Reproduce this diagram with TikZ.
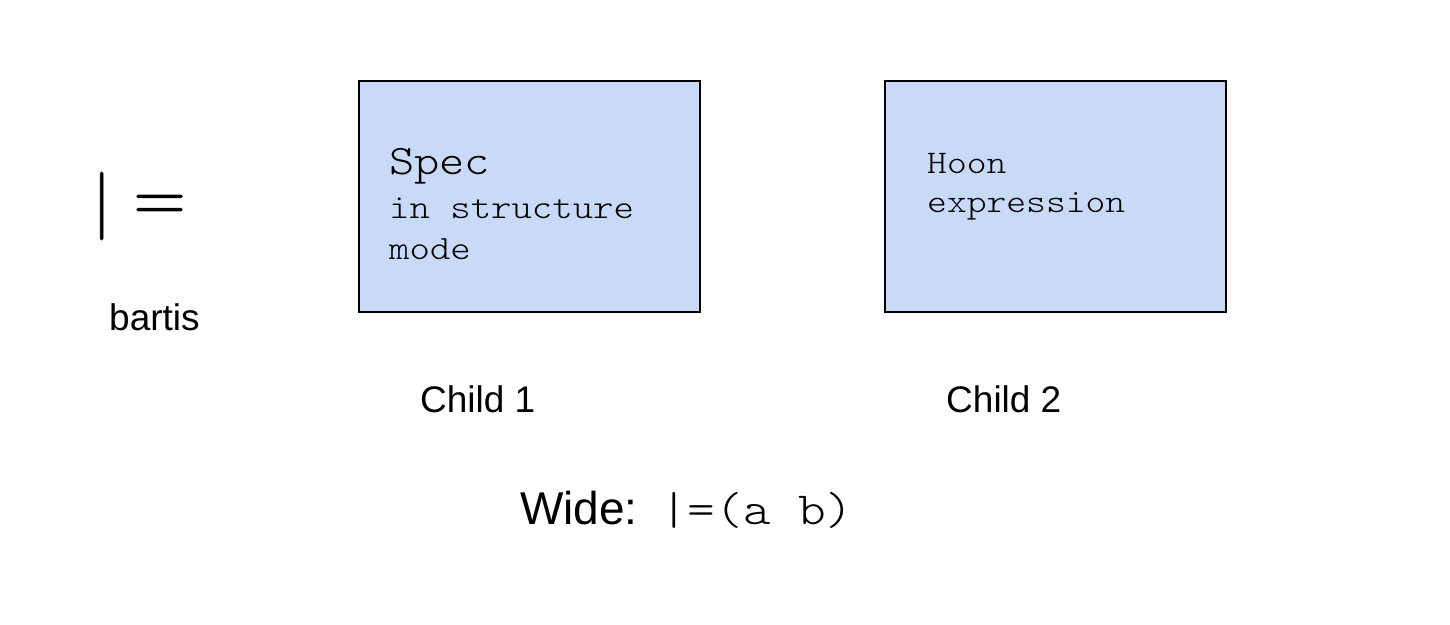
\documentclass[tikz,border=0pt]{standalone}
\usepackage{fontspec}
\usetikzlibrary{positioning}
\setmainfont{Liberation Sans}
\setmonofont{Latin Modern Mono Light}[FakeStretch=1.143]
\newfontfamily\symfont{Latin Modern Math}[FakeBold=1.2]
\definecolor{boxblue}{HTML}{C9DAF8}
\newcommand{\fsz}[1]{\fontsize{#1}{#1}\selectfont}
\begin{document}
\begin{tikzpicture}[x=1pt,y=-1pt]
	\tikzstyle{Box} = [rectangle, minimum width=341pt, minimum height=231pt, draw=black, line width=1.3pt, fill=boxblue, inner sep=0pt]
	\tikzstyle{Label} = [anchor=base west, inner sep=0pt]
	\useasboundingbox (0,0) rectangle (1450,624);

	% symbol and its name
	\node (sym) [Label] at (92,223) {\fsz{68}\symfont |\hspace{22pt}\raisebox{3pt}{=}};
	\node (name) [Label] at (109,330) {\fsz{37}bartis};

	% the two children
	\node (c1) [Box] at (529.5,196.5) {};
	\node (c2) [Box] at (1055.5,196.5) {};
	\node (spec) [Label] at (389,174) {\fsz{42}\ttfamily Spec};
	\node (instr) [Label] at (389,218) {\fsz{34}\ttfamily in structure};
	\node (mode) [Label] at (389,259) {\fsz{34}\ttfamily mode};
	\node (hoon) [Label] at (927,173) {\fsz{33}\ttfamily Hoon};
	\node (expr) [Label] at (927,212) {\fsz{33}\ttfamily expression};
	\node (l1) [Label] at (420,412) {\fsz{37}Child 1};
	\node (l2) [Label] at (946,412) {\fsz{37}Child 2};

	% wide form
	\node (wide) [Label] at (520,524) {\fsz{46}Wide:};
	\node (wform) [Label, right=22pt of wide.base east, anchor=base west] {\fsz{46}\ttfamily |=(a b)};
\end{tikzpicture}
\end{document}
